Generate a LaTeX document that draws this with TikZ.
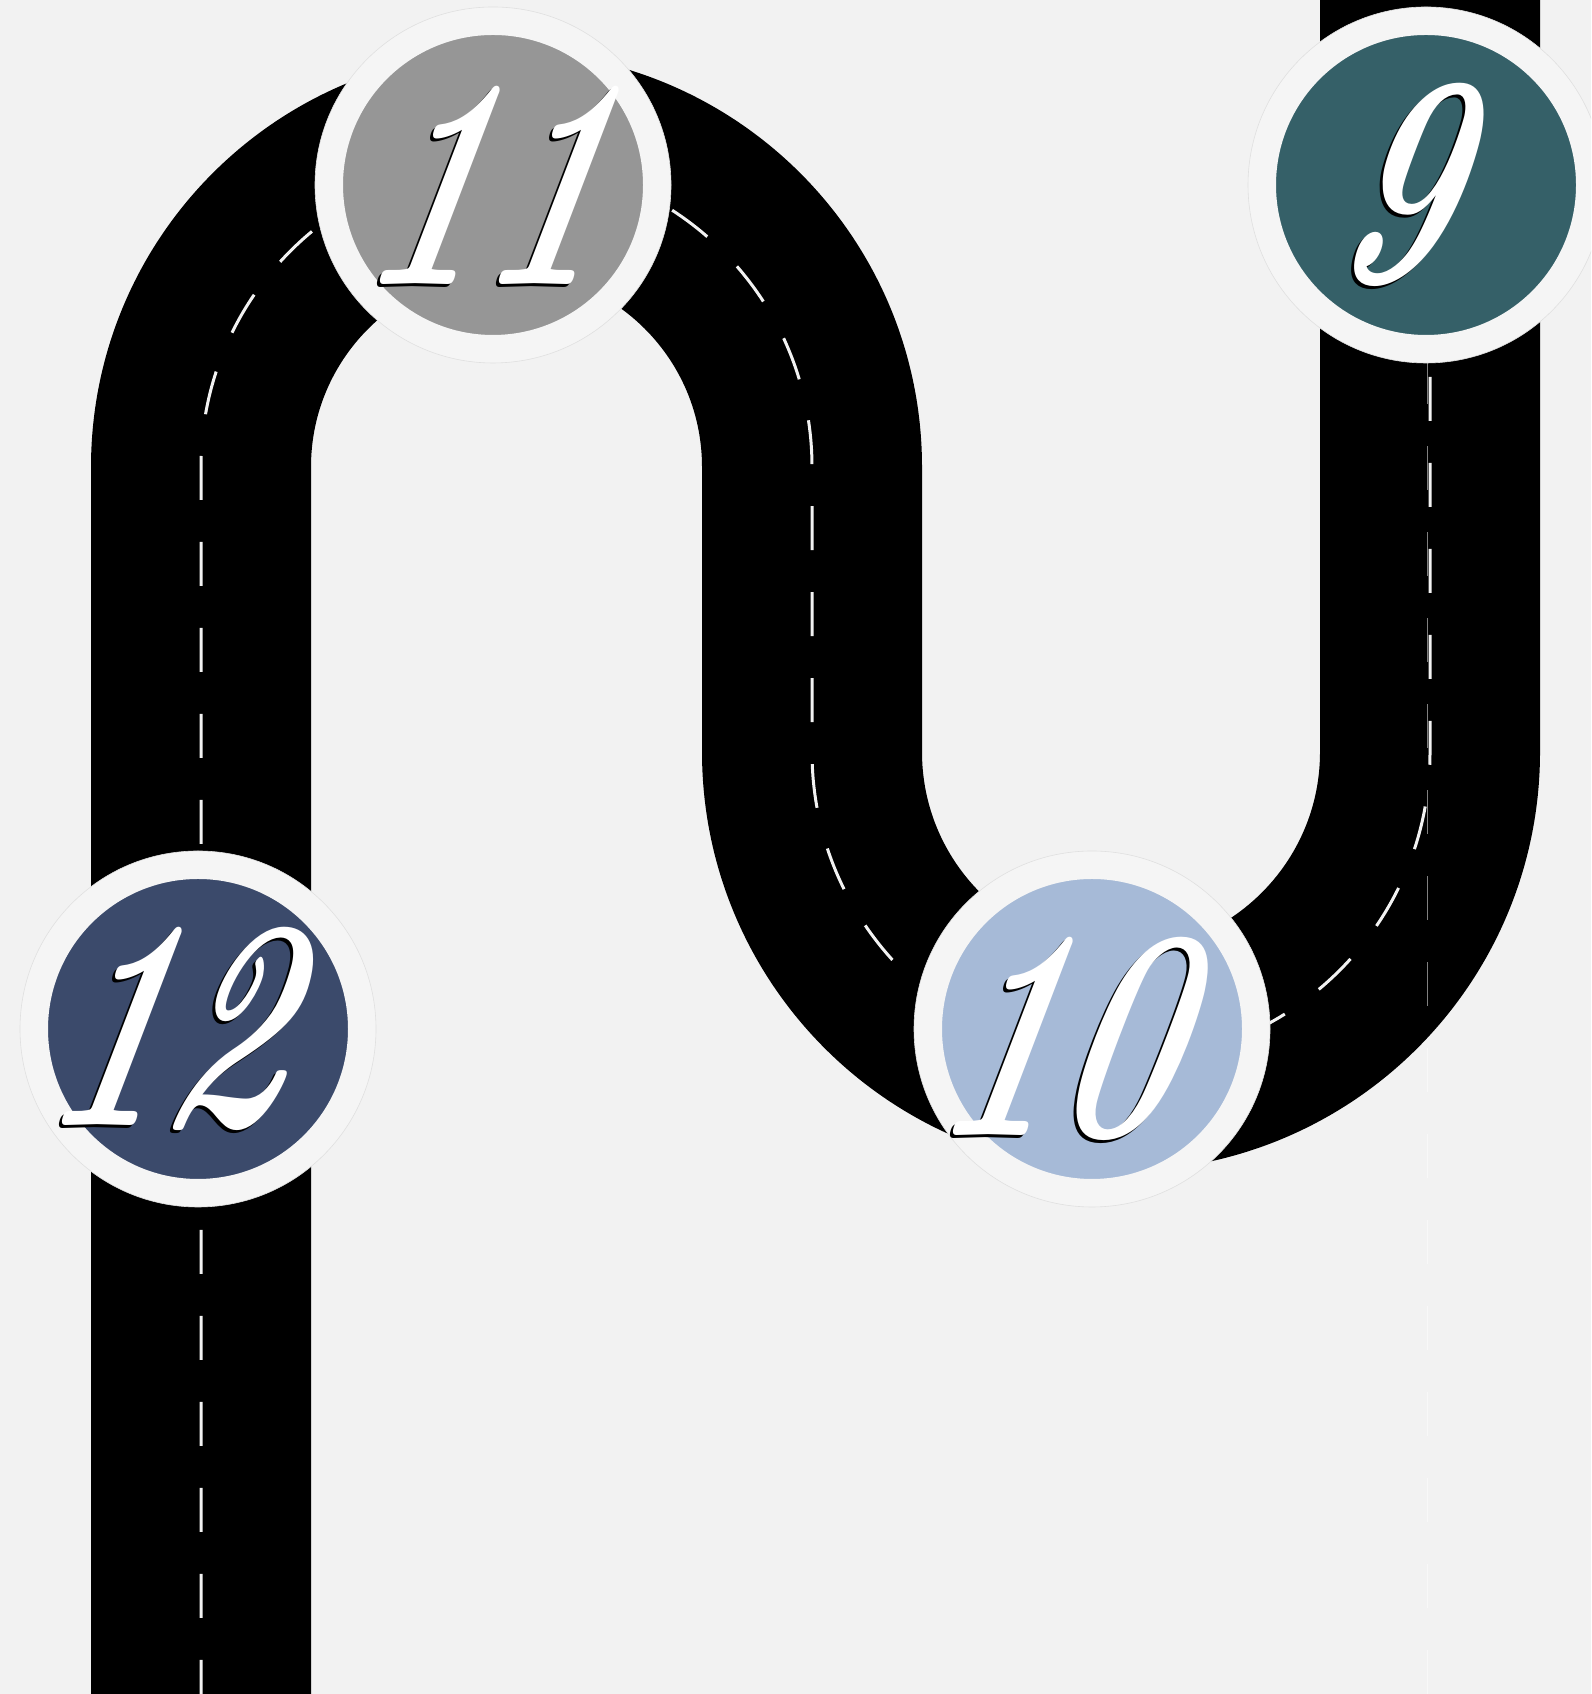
\documentclass[tikz,border=0pt]{standalone}
\usetikzlibrary{calc}

\definecolor{bgcol}{HTML}{F2F2F2}
\definecolor{ringcol}{HTML}{F5F5F5}
\definecolor{stopgrey}{HTML}{969696}
\definecolor{stopteal}{HTML}{356068}
\definecolor{stopnavy}{HTML}{3B4A6B}
\definecolor{stopblue}{HTML}{A6BAD7}

\tikzset{
  road/.style={line width=220pt, black},
  lane/.style={white!95!black, line width=3pt, dash pattern=on 44pt off 42pt, dash phase=10pt},
  faintlane/.style={white, opacity=0.5, line width=0.7pt, dash pattern=on 44pt off 42pt},
  stopdisc/.style={circle, inner sep=0pt, minimum size=328pt, draw=ringcol, line width=28pt},
  stopedge/.style={draw=black!12, line width=0.6pt},
  stopnum/.style={font=\fontsize{300}{300}\selectfont\bfseries\itshape, text=white, inner sep=0pt, xscale=0.67, xslant=0.32}
}

% one milestone: name, position, colour, number, shift of the number
\newcommand{\roadstop}[5]{%
  \node[stopdisc, fill=#3] (#1) at (#2) {};
  \draw[stopedge] (#1.center) circle (178);
  \node[stopnum, text=black] (#1shadow) at ($(#1)+(#5)+(-3,-3)$) {#4};
  \node[stopnum] (#1num) at ($(#1)+(#5)$) {#4};
}

\begin{document}
\begin{tikzpicture}[x=1pt, y=1pt]
	%%%%% START %%%%%
	\useasboundingbox (0,0) rectangle (1591,1694);
	\clip (0,0) rectangle (1591,1694);
	\fill[bgcol] (0,0) rectangle (1591,1694);

	% the road
	\draw[road] (201,-10) -- (201,1227) arc (180:0:305.5) -- (812,942) arc (180:360:309) -- (1430,1704);
	\draw[lane] (201,0) -- (201,1227) arc (180:0:305.5) -- (812,942) arc (180:360:309) -- (1430,1694);
	\draw[faintlane] (1427,0) -- (1427,1694);

	% the stops
	\roadstop{s11}{493,1509}{stopgrey}{11}{2,0}
	\roadstop{s9}{1426,1509}{stopteal}{9}{-20,0}
	\roadstop{s12}{198,665}{stopnavy}{12}{-22,0}
	\roadstop{s10}{1092,665}{stopblue}{10}{-25,-10}
	%%%%% END %%%%%
\end{tikzpicture}
\end{document}
